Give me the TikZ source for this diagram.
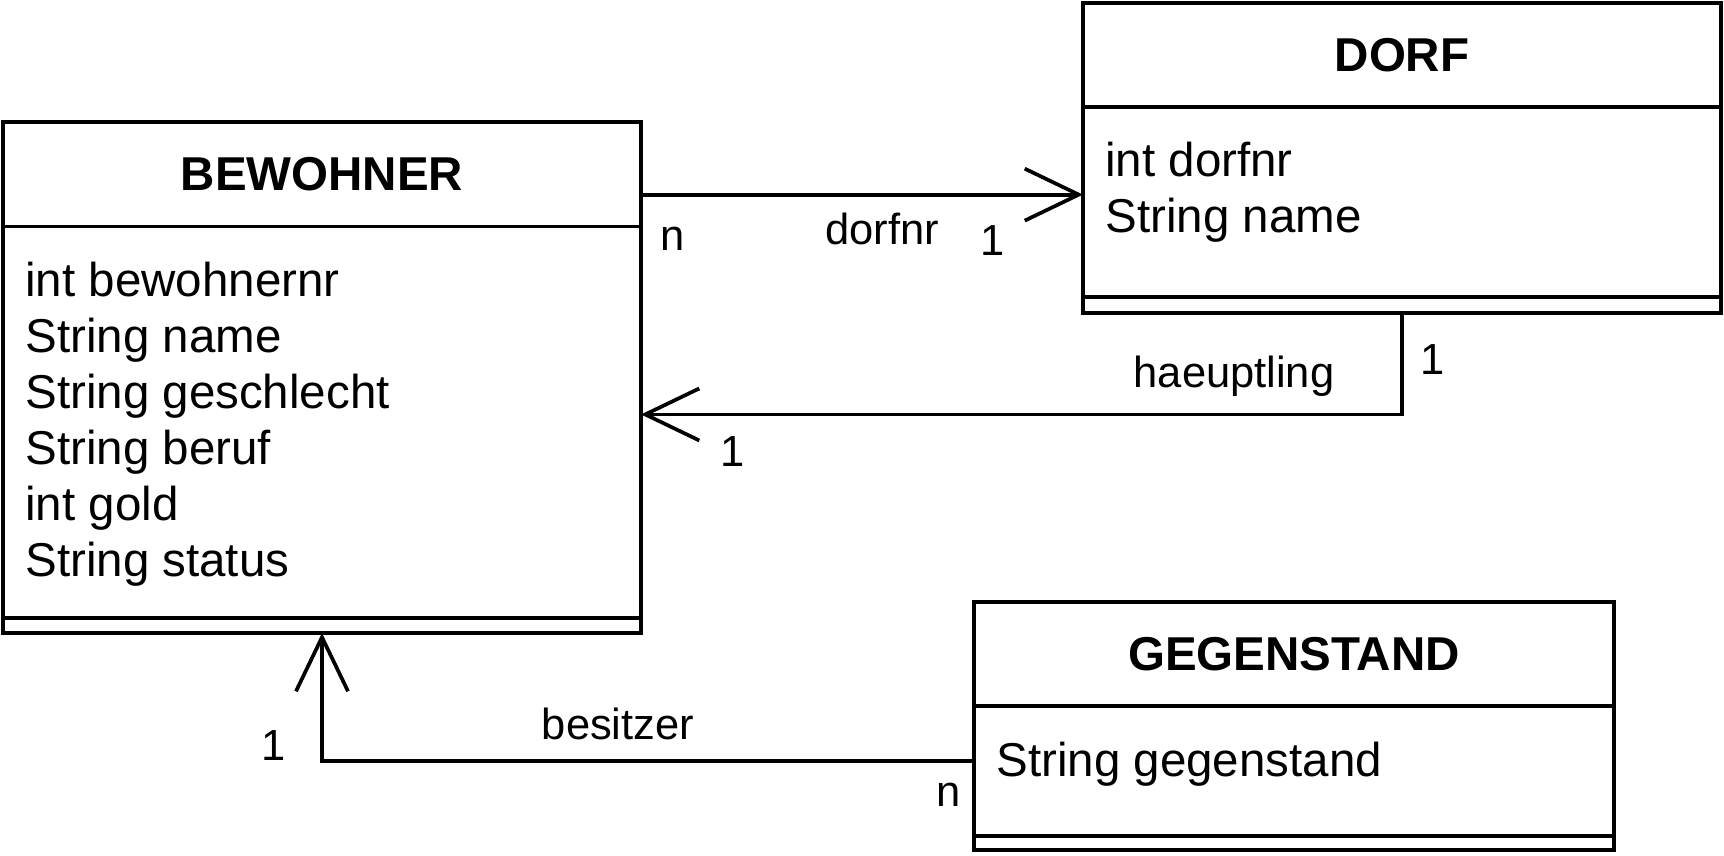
\documentclass[tikz,border=0pt]{standalone}
\usepackage{fontspec}
\setmainfont{Liberation Sans}
\usetikzlibrary{positioning,arrows.meta}

\tikzset{
  classhead/.style={draw, line width=1.85pt, outer sep=0pt, inner sep=0pt,
    minimum width=319pt, minimum height=52pt, font=\bfseries\fontsize{23.75}{28}\selectfont},
  classbody/.style={draw, line width=1.85pt, outer sep=0pt, inner sep=0pt, minimum width=319pt},
  attrtext/.style={anchor=north west, align=left, inner sep=0pt, xshift=11pt, yshift=-17.5pt,
    font=\fontsize{23.75}{28}\selectfont},
  assoc/.style={line width=1.85pt, -{Straight Barb[length=27pt,width=26pt]}},
  mult/.style={anchor=base, inner sep=0pt, font=\fontsize{21.75}{26}\selectfont}
}

\begin{document}
\begin{tikzpicture}[x=0.5pt, y=-0.5pt]
            \useasboundingbox (0,0) rectangle (1724,856);

            % BEWOHNER
            \node[classhead, minimum height=52.25pt] (bew) at (322,174.25) {BEWOHNER};
            \node[classbody, minimum height=195.75pt, below=0pt of bew] (bewattr) {};
            \node[classbody, minimum height=7.5pt, below=0pt of bewattr] (bewmeth) {};
            \node[attrtext] (bewtext) at (bewattr.north west) {int bewohnernr\\String name\\String geschlecht\\String beruf\\int gold\\String status};

            % DORF
            \node[classhead] (dorf) at (1402,55) {DORF};
            \node[classbody, minimum height=95pt, below=0pt of dorf] (dorfattr) {};
            \node[classbody, minimum height=8pt, below=0pt of dorfattr] (dorfmeth) {};
            \node[attrtext] (dorftext) at (dorfattr.north west) {int dorfnr\\String name};

            % GEGENSTAND
            \node[classhead, minimum width=320pt] (geg) at (1294,654.25) {GEGENSTAND};
            \node[classbody, minimum width=320pt, minimum height=65pt, below=0pt of geg] (gegattr) {};
            \node[classbody, minimum width=320pt, minimum height=7pt, below=0pt of gegattr] (gegmeth) {};
            \node[attrtext] (gegtext) at (gegattr.north west) {String gegenstand};

            % Associations
            \coordinate (bewout) at ([yshift=-10.2pt]bew.east);
            \draw[assoc] (bewout) -- (bewout -| dorfattr.west);
            \draw[assoc] (dorfmeth.south) |- ([yshift=3.9pt]bewattr.east);
            \draw[assoc] ([yshift=5pt]gegattr.west) -| (bewmeth.south);

            % Labels and multiplicities
            \node[mult] (m1) at (673,250.7) {n};
            \node[mult] (l1) at (882,244) {dorfnr};
            \node[mult] (m2) at (993,255) {1};
            \node[mult] (l2) at (1234,387) {haeuptling};
            \node[mult] (m3) at (1433,374) {1};
            \node[mult] (m4) at (733,466) {1};
            \node[mult] (l3) at (618,739) {besitzer};
            \node[mult] (m5) at (274,760) {1};
            \node[mult] (m6) at (949,806) {n};
        \end{tikzpicture}
\end{document}
